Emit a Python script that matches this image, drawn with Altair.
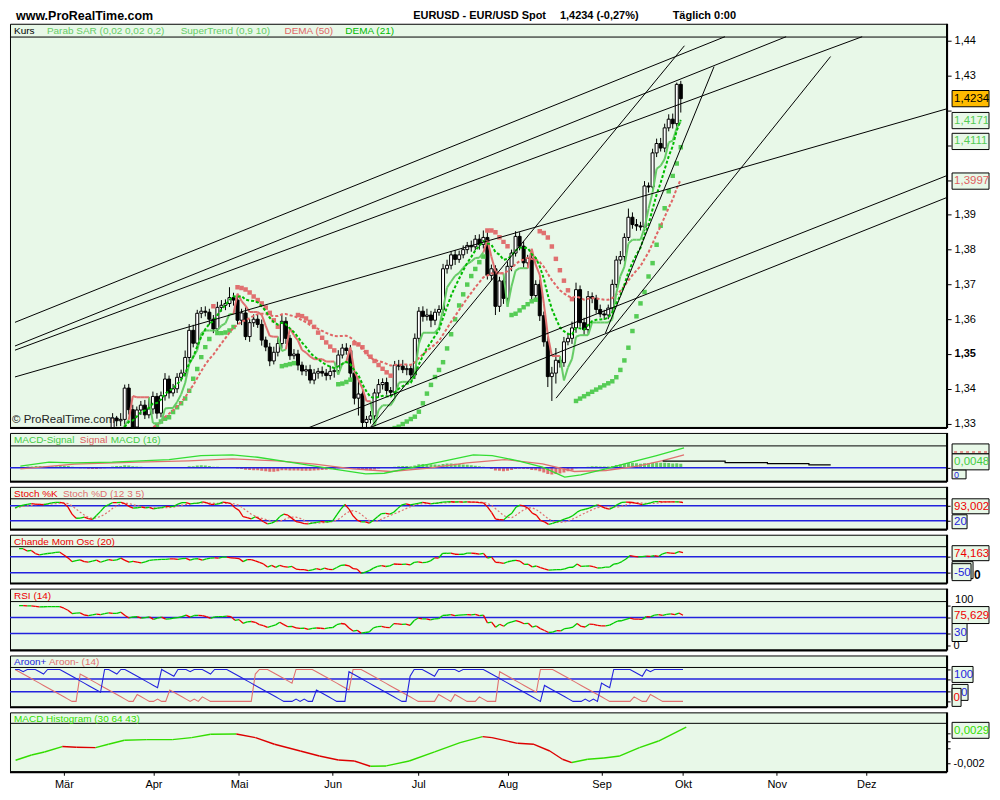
import altair as alt
import numpy as np
import pandas as pd

FONT = "Liberation Sans"
BG = "#e8f8e8"
BLUE = "#2222dd"
GREEN = "#00cc00"
RED = "#ee0000"
PINK = "#e07070"
LGREEN = "#55cc55"

# ------------------------------------------------------------------ data
# bar index 0 = first trading day of March; one value per trading day
FIRST_INDEX = -12
first_open = 1.3010
close = [
    1.3035, 1.3120, 1.3125, 1.3118, 1.3150, 1.3135, 1.3128, 1.3145, 1.3170, 1.3182,
    1.3235, 1.3240, 1.3212, 1.3175, 1.3110, 1.3145, 1.3172, 1.3130, 1.3118, 1.3155,
    1.3205, 1.3198, 1.3262, 1.3316, 1.3308, 1.3312, 1.3402, 1.3340, 1.3290, 1.3339,
    1.3353, 1.3325, 1.3342, 1.3378, 1.3330, 1.3380, 1.3428, 1.3388, 1.3400, 1.3433,
    1.3445, 1.3490, 1.3568, 1.3531, 1.3617, 1.3623, 1.3620, 1.3600, 1.3572, 1.3634,
    1.3640, 1.3645, 1.3662, 1.3655, 1.3597, 1.3618, 1.3550, 1.3590, 1.3600, 1.3585,
    1.3540, 1.3520, 1.3480, 1.3505, 1.3530, 1.3594, 1.3545, 1.3495, 1.3500, 1.3468,
    1.3451, 1.3455, 1.3425, 1.3445, 1.3450, 1.3445, 1.3438, 1.3450, 1.3452, 1.3497,
    1.3517, 1.3510, 1.3445, 1.3373, 1.3385, 1.3303, 1.3312, 1.3322, 1.3388, 1.3412,
    1.3418, 1.3395, 1.3390, 1.3468, 1.3465, 1.3455, 1.3458, 1.3440, 1.3545, 1.3623,
    1.3608, 1.3612, 1.3597, 1.3620, 1.3628, 1.3745, 1.3755, 1.3785, 1.3772, 1.3785,
    1.3800, 1.3812, 1.3808, 1.3830, 1.3815, 1.3835, 1.3726, 1.3745, 1.3637, 1.3710,
    1.3660, 1.3752, 1.3790, 1.3838, 1.3810, 1.3762, 1.3775, 1.3668, 1.3700, 1.3610,
    1.3535, 1.3435, 1.3445, 1.3482, 1.3475, 1.3535, 1.3545, 1.3575, 1.3685, 1.3590,
    1.3570, 1.3665, 1.3660, 1.3628, 1.3615, 1.3612, 1.3632, 1.3700, 1.3770, 1.3780,
    1.3835, 1.3893, 1.3872, 1.3868, 1.3865, 1.3983, 1.3980, 1.4078, 1.4105, 1.4092,
    1.4150, 1.4175, 1.4162, 1.4275, 1.4234,
]
upper_wick_pips = [
    15, 20, 12, 18, 10, 12, 15, 14, 12, 16,
    12, 14, 10, 18, 22, 12, 16, 10, 14, 12,
    12, 15, 10, 14, 6, 18, 10, 12, 14, 10,
    12, 15, 35, 14, 10, 12, 17, 10, 14, 12,
    10, 20, 18, 16, 10, 12, 14, 10, 12, 16,
    15, 12, 30, 14, 18, 12, 16, 10, 14, 12,
    14, 10, 12, 16, 20, 18, 12, 10, 14, 12,
    10, 12, 14, 12, 10, 14, 12, 16, 10, 14,
    12, 14, 16, 10, 40, 12, 10, 14, 12, 16,
    12, 14, 10, 12, 15, 18, 12, 10, 14, 12,
    14, 18, 12, 10, 12, 14, 16, 10, 14, 12,
    12, 10, 14, 12, 14, 20, 15, 12, 10, 12,
    12, 14, 10, 15, 12, 14, 10, 16, 12, 14,
    12, 14, 18, 35, 12, 14, 16, 18, 20, 12,
    14, 16, 12, 10, 14, 12, 10, 14, 12, 16,
    12, 25, 14, 16, 12, 14, 10, 12, 14, 16,
    12, 14, 16, 5, 10,
]
lower_wick_pips = [
    12, 15, 18, 10, 14, 12, 10, 15, 12, 10,
    25, 10, 14, 20, 16, 12, 18, 15, 10, 14,
    15, 12, 14, 20, 16, 15, 20, 14, 12, 16,
    14, 12, 10, 15, 16, 12, 14, 16, 10, 12,
    12, 10, 14, 12, 10, 14, 12, 16, 12, 10,
    12, 14, 10, 16, 12, 14, 10, 15, 12, 10,
    16, 12, 15, 10, 12, 14, 16, 12, 10, 15,
    12, 14, 10, 12, 16, 10, 14, 12, 18, 10,
    10, 12, 14, 18, 50, 16, 14, 12, 10, 14,
    14, 12, 10, 14, 12, 10, 16, 14, 12, 15,
    15, 12, 20, 14, 10, 12, 14, 12, 16, 10,
    10, 12, 14, 10, 15, 12, 12, 14, 25, 16,
    16, 12, 14, 10, 12, 14, 16, 12, 10, 15,
    14, 30, 70, 30, 14, 12, 10, 16, 14, 12,
    16, 12, 14, 12, 10, 14, 12, 16, 10, 12,
    14, 10, 12, 14, 10, 12, 16, 14, 12, 10,
    12, 10, 14, 12, 40,
]

month_names = ["Mär", "Apr", "Mai", "Jun", "Jul", "Aug", "Sep", "Okt", "Nov", "Dez"]
month_idx = [0, 22, 43, 66, 87, 109, 132, 152, 175, 197]

# drawn trend lines (bar index, price)
line_x1 = [-13.23, -13.23, -13.23, -13.23, 58.32, 73.51, 74.49, 121.05, 133.30]
line_p1 = [1.3591, 1.3523, 1.3511, 1.3434, 1.3282, 1.3282, 1.3282, 1.3373, 1.3560]
line_x2 = [162.95, 178.14, 197.01, 218.08, 218.08, 218.08, 152.90, 189.17, 160.25]
line_p2 = [1.4412, 1.4412, 1.4412, 1.4205, 1.4013, 1.3950, 1.4386, 1.4355, 1.4326]

# MACD panel lines
macd_g_idx = [-11.9, -4.8, 1.5, 10.9, 25.0, 32.9, 40.7, 47.0, 54.9, 64.3, 73.8, 78.4,
              84.7, 92.6, 100.5, 105.2, 111.4, 117.7, 123.2, 127.2, 133.4, 139.7, 146.0, 152.8]
macd_g_val = [0.0012, 0.0039, 0.0034, 0.0039, 0.0057, 0.0084, 0.0089, 0.0073, 0.0039,
              -0.0002, -0.0041, -0.0037, -0.0002, 0.0043, 0.0089, 0.0084, 0.0050, 0.0005,
              -0.0064, -0.0048, -0.0007, 0.0039, 0.0084, 0.0137]
macd_r_idx = [-11.9, 1.5, 17.2, 29.8, 40.7, 51.8, 61.2, 70.6, 80.0, 89.5, 98.9, 108.3,
              117.7, 125.6, 133.4, 141.3, 147.5, 152.8]
macd_r_val = [-0.0007, 0.0025, 0.0039, 0.0048, 0.0062, 0.0048, 0.0025, -0.0007, -0.0025,
              -0.0002, 0.0034, 0.0057, 0.0027, -0.0025, -0.0018, 0.0012, 0.0050, 0.0089]
# black projection line in the MACD panel
fut_idx = [147.5, 163.0, 173.5, 183.8, 189.2]
fut_val = [0.0046, 0.0036, 0.0029, 0.0021, 0.0021]

# MACD Histogram (30 64 43)
mh_idx = [-11.86, -7.94, -4.78, -0.39, 3.06, 7.77, 10.93, 14.85, 20.34, 26.64,
          31.34, 36.02, 42.34, 47.05, 51.7, 58.05, 62.73, 67.39, 71.3, 75.22,
          79.15, 84.78, 91.03, 97.28, 102.8, 105.1, 111.4, 115.4, 119.3, 122.4,
          124.7, 128.6, 132.6, 136.5, 141.3, 146.0, 152.8]
mh_val = [-0.00159, -0.00088, -0.00047, 0.00026, 0.00016, 0.00012, 0.00057, 0.00111,
          0.00120, 0.00120, 0.00147, 0.00192, 0.00196, 0.00147, 0.00057, -0.00034,
          -0.00101, -0.00155, -0.00169, -0.00240, -0.00236, -0.00169, -0.00047,
          0.00080, 0.00161, 0.00147, 0.00070, 0.00057, -0.00034, -0.00146, -0.00190,
          -0.00146, -0.00128, -0.00101, 0.00012, 0.00101, 0.00290]

price_ticks = [1.33, 1.34, 1.35, 1.36, 1.37, 1.38, 1.39, 1.40, 1.41, 1.42, 1.43, 1.44]
main_tag_values = [1.4234, 1.4171, 1.4111, 1.3997]
main_tag_texts = ["1,4234", "1,4171", "1,4111", "1,3997"]

# ------------------------------------------------------------ indicators
n = len(close)
bar = np.arange(FIRST_INDEX, FIRST_INDEX + n).astype(float)
C = np.array(close)
O = np.concatenate([[first_open], C[:-1]])
H = np.maximum(O, C) + np.array(upper_wick_pips) / 1e4
L = np.minimum(O, C) - np.array(lower_wick_pips) / 1e4


def ema(x, span):
    return pd.Series(x).ewm(span=span, adjust=False).mean().values


def dema(x, span):
    e1 = ema(x, span)
    return 2 * e1 - ema(e1, span)


dema50 = dema(C, 50)
dema21 = dema(C, 21)

# parabolic SAR (0.02 0.02 0.2)
sar = np.zeros(n)
sar_up = np.zeros(n, dtype=bool)
up = True
af = 0.02
ep = H[0]
sar[0] = L[0]
sar_up[0] = True
for i in range(1, n):
    s = sar[i - 1] + af * (ep - sar[i - 1])
    if up:
        s = min(s, L[i - 1], L[max(i - 2, 0)])
        if L[i] < s:
            up = False
            s = ep
            ep = L[i]
            af = 0.02
        elif H[i] > ep:
            ep = H[i]
            af = min(af + 0.02, 0.2)
    else:
        s = max(s, H[i - 1], H[max(i - 2, 0)])
        if H[i] > s:
            up = True
            s = ep
            ep = H[i]
            af = 0.02
        elif L[i] < ep:
            ep = L[i]
            af = min(af + 0.02, 0.2)
    sar[i] = s
    sar_up[i] = up

# SuperTrend (0.9 10)
prev_c = np.concatenate([[C[0]], C[:-1]])
tr = np.maximum(H - L, np.maximum(np.abs(H - prev_c), np.abs(L - prev_c)))
atr = pd.Series(tr).rolling(10, min_periods=1).mean().values
hl2 = (H + L) / 2
ub = hl2 + 0.9 * atr
lb = hl2 - 0.9 * atr
fub = ub.copy()
flb = lb.copy()
st = np.zeros(n)
st_up = np.zeros(n, dtype=bool)
up_tr = True
for i in range(n):
    if i > 0:
        fub[i] = ub[i] if (ub[i] < fub[i - 1] or C[i - 1] > fub[i - 1]) else fub[i - 1]
        flb[i] = lb[i] if (lb[i] > flb[i - 1] or C[i - 1] < flb[i - 1]) else flb[i - 1]
        if up_tr and C[i] < flb[i]:
            up_tr = False
        elif (not up_tr) and C[i] > fub[i]:
            up_tr = True
    st[i] = flb[i] if up_tr else fub[i]
    st_up[i] = up_tr

# MACD histogram bars (MACD - signal)
macd_line = ema(C, 12) - ema(C, 26)
macd_hist = macd_line - ema(macd_line, 9)

# Stochastic (12 3 5)
hh = pd.Series(H).rolling(12, min_periods=1).max().values
ll = pd.Series(L).rolling(12, min_periods=1).min().values
rawk = np.where(hh > ll, 100 * (C - ll) / np.where(hh > ll, hh - ll, 1), 50.0)
stoch_k = pd.Series(rawk).rolling(3, min_periods=1).mean().values
stoch_d = pd.Series(stoch_k).rolling(5, min_periods=1).mean().values

# CMO (20), RSI (14)
d = np.diff(C)
gains = np.clip(d, 0, None)
losses = np.clip(-d, 0, None)
su = pd.Series(gains).rolling(20, min_periods=1).sum().values
sd = pd.Series(losses).rolling(20, min_periods=1).sum().values
cmo = np.where(su + sd > 0, 100 * (su - sd) / np.where(su + sd > 0, su + sd, 1), 0.0)
ag = pd.Series(gains).ewm(alpha=1 / 14, adjust=False).mean().values
al = pd.Series(losses).ewm(alpha=1 / 14, adjust=False).mean().values
rsi = np.where(al > 0, 100 - 100 / (1 + ag / np.where(al > 0, al, 1)), 100.0)


# Aroon (14)
def _aup(a):
    return 100.0 * (14 - (len(a) - 1 - int(np.argmax(a)))) / 14


def _adn(a):
    return 100.0 * (14 - (len(a) - 1 - int(np.argmin(a)))) / 14


aroon_up = pd.Series(H).rolling(15, min_periods=1).apply(_aup, raw=True).values
aroon_dn = pd.Series(L).rolling(15, min_periods=1).apply(_adn, raw=True).values


def segments(xs, ys, up_flags=None):
    xs = np.asarray(xs, dtype=float)
    ys = np.asarray(ys, dtype=float)
    df = pd.DataFrame({"x": xs[:-1], "x2": xs[1:], "y": ys[:-1], "y2": ys[1:]})
    if up_flags is None:
        df["dir"] = np.where(df["y2"] >= df["y"], "up", "dn")
    else:
        df["dir"] = np.where(np.asarray(up_flags)[1:], "up", "dn")
    return df


# ------------------------------------------------------------- helpers
W = 938
X_DOMAIN = [-13.23, 216.6]
xsc = alt.Scale(domain=X_DOMAIN, zero=False, nice=False)
HF = 10  # header font size


def one():
    return pd.DataFrame({"a": [0]})


def text_at(s, x, y, color="black", size=HF, weight="normal", align="left"):
    return alt.Chart(one()).mark_text(
        text=s, align=align, baseline="middle", fontSize=size, fontWeight=weight,
        color=color, font=FONT).encode(x=alt.value(x), y=alt.value(y))


def box_px(x1, x2, y1, y2, fill=BG):
    return alt.Chart(one()).mark_rect(fill=fill, stroke="black", strokeWidth=1).encode(
        x=alt.value(x1), x2=alt.value(x2), y=alt.value(y1), y2=alt.value(y2))


def tag_px(label, y1, y2, color, width=37, fill=BG, size=11.5, dx=2):
    return [box_px(W + 6, W + 6 + width, y1, y2, fill),
            text_at(label, W + 6 + dx, (y1 + y2) / 2 + 0.5, color, size)]


def sub_axis(values, expr="''"):
    return alt.Axis(orient="right", values=values, labelExpr=expr, tickSize=4,
                    tickColor="black", labelColor="black", labelFontSize=11,
                    labelFont=FONT, domain=False, grid=False, title=None,
                    labelPadding=3, labelFlush=False)


class Panel:
    def __init__(self, height, ydom, yaxis, xaxis=None):
        self.h = height
        self.ysc = alt.Scale(domain=ydom, zero=False, nice=False)
        self.yaxis = yaxis
        self.xaxis = xaxis
        self.layers = []

    def X(self, f):
        return alt.X(f, type="quantitative", scale=xsc, axis=self.xaxis)

    def Y(self, f):
        return alt.Y(f, type="quantitative", scale=self.ysc, axis=self.yaxis)

    def YD(self, v):
        return alt.YDatum(v, type="quantitative", scale=self.ysc, axis=self.yaxis)

    def add(self, *layers):
        self.layers.extend(layers)

    def hline(self, v, color, width=1.0):
        self.layers.append(alt.Chart(one()).mark_rule(color=color, strokeWidth=width).encode(
            y=self.YD(v)))

    def segs(self, df, cu, cd, width=1.3):
        for key, col in (("up", cu), ("dn", cd)):
            sub = df[df["dir"] == key]
            if len(sub):
                self.layers.append(alt.Chart(sub).mark_rule(
                    color=col, strokeWidth=width, clip=True).encode(
                    x=self.X("x"), x2="x2", y=self.Y("y"), y2="y2"))

    def chart(self):
        frame = [
            alt.Chart(one()).mark_rule(color="black", strokeWidth=2).encode(
                x=alt.value(0), x2=alt.value(W + 1), y=alt.value(self.h + 1)),
            alt.Chart(one()).mark_rule(color="black", strokeWidth=2).encode(
                x=alt.value(W + 1), y=alt.value(0), y2=alt.value(self.h + 1)),
        ]
        return alt.layer(*self.layers, *frame).properties(width=W, height=self.h)


# ------------------------------------------------------------ main panel
H_MAIN = 404
main_axis = alt.Axis(
    orient="right", values=price_ticks,
    labelExpr="(datum.value > 1.395 && datum.value < 1.425) ? '' : "
              "replace(format(datum.value, '.2f'), '.', ',')",
    tickSize=5, tickColor="black", labelColor="black", labelFontSize=11,
    labelFont=FONT, domain=False, grid=False, title=None, labelPadding=3,
    labelFlush=False,
    labelFontWeight={"condition": {"test": "abs(datum.value - 1.35) < 0.001", "value": "bold"},
                     "value": "normal"})
P = Panel(H_MAIN, [1.32903, 1.44492], main_axis)

cdf = pd.DataFrame({"i": bar, "o": O, "c": C, "h": H, "l": L})
P.add(alt.Chart(cdf).mark_rule(color="black", strokeWidth=1, clip=True).encode(
    x=P.X("i"), y=P.Y("l"), y2="h"))
P.add(alt.Chart(cdf[cdf["c"] >= cdf["o"]]).mark_bar(
    size=3, fill="white", stroke="black", strokeWidth=1, clip=True).encode(
    x=P.X("i"), y=P.Y("o"), y2="c"))
P.add(alt.Chart(cdf[cdf["c"] < cdf["o"]]).mark_bar(
    size=3, fill="black", stroke="black", strokeWidth=1, clip=True).encode(
    x=P.X("i"), y=P.Y("o"), y2="c"))

sdf = pd.DataFrame({"i": bar, "v": sar, "up": sar_up})
P.add(alt.Chart(sdf[sdf["up"]]).mark_square(size=20, color=LGREEN, opacity=1, clip=True).encode(
    x=P.X("i"), y=P.Y("v")))
P.add(alt.Chart(sdf[~sdf["up"]]).mark_square(size=20, color=PINK, opacity=1, clip=True).encode(
    x=P.X("i"), y=P.Y("v")))

ddf = pd.DataFrame({"i": bar, "d50": dema50, "d21": dema21})
P.add(alt.Chart(ddf).mark_line(color="#e06666", strokeWidth=2, strokeDash=[3, 2], clip=True).encode(
    x=P.X("i"), y=P.Y("d50")))
P.segs(segments(bar, st, st_up), "#66cc66", PINK, width=2)
P.add(alt.Chart(ddf).mark_line(color="#00bb00", strokeWidth=2, strokeDash=[3, 2], clip=True).encode(
    x=P.X("i"), y=P.Y("d21")))

ldf = pd.DataFrame({"x": line_x1, "x2": line_x2, "y": line_p1, "y2": line_p2})
P.add(alt.Chart(ldf).mark_rule(color="black", strokeWidth=1, clip=True).encode(
    x=P.X("x"), x2="x2", y=P.Y("y"), y2="y2"))

P.hline(1.44110, "black")
P.add(text_at("Kurs", 4, 7),
      text_at("Parab SAR (0,02 0,02 0,2)", 37, 7, "#66cc66"),
      text_at("SuperTrend (0,9 10)", 171, 7, "#66cc66"),
      text_at("DEMA (50)", 275, 7, "#e06666"),
      text_at("DEMA (21)", 336, 7, "#00bb00"),
      text_at("© ProRealTime.com", 2, H_MAIN - 7, "#222222", 11.5),
      text_at("www.ProRealTime.com", 6, -8, "black", 12.5, "bold"),
      text_at("EURUSD - EUR/USD Spot", 404, -8, "black", 11, "bold"),
      text_at("1,4234 (-0,27%)", 551, -8, "black", 11, "bold"),
      text_at("Täglich  0:00", 664, -8, "black", 11, "bold"))

tag_style = [("#ffbb00", "black"), (BG, LGREEN), (BG, LGREEN), (BG, "#e06060")]
for v, t, (fc, tc) in zip(main_tag_values, main_tag_texts, tag_style):
    P.add(alt.Chart(one()).mark_point(
        shape="M-1,-0.44H1V0.44H-1Z", size=37 * 37, filled=True, color=fc,
        stroke="black", strokeWidth=1, opacity=1).encode(
        x=alt.value(W + 6 + 18.5), y=P.YD(v)))
    P.add(alt.Chart(one()).mark_text(
        text=t, align="left", baseline="middle", fontSize=11.5, color=tc, font=FONT).encode(
        x=alt.value(W + 8), y=P.YD(v)))
main_chart = P.chart()

# ------------------------------------------------------------ MACD panel
K_MACD = 1458.0  # pixels per unit in this panel
M = Panel(48, [-13.0 / K_MACD, 35.0 / K_MACD], sub_axis([0]))
mdf = pd.DataFrame({"i": bar, "h": macd_hist})
M.add(alt.Chart(mdf[mdf["h"] >= 0]).mark_bar(size=3, color="#66cc66", clip=True).encode(
    x=M.X("i"), y=M.Y("h"), y2=alt.datum(0)))
M.add(alt.Chart(mdf[mdf["h"] < 0]).mark_bar(size=3, color=PINK, clip=True).encode(
    x=M.X("i"), y=M.Y("h"), y2=alt.datum(0)))
M.hline(0, BLUE, 1.5)
M.add(alt.Chart(pd.DataFrame({"i": macd_r_idx, "v": macd_r_val})).mark_line(
    color=PINK, strokeWidth=1.3, clip=True).encode(x=M.X("i"), y=M.Y("v")))
M.add(alt.Chart(pd.DataFrame({"i": macd_g_idx, "v": macd_g_val})).mark_line(
    color="#33dd33", strokeWidth=1.3, clip=True).encode(x=M.X("i"), y=M.Y("v")))
M.add(alt.Chart(pd.DataFrame({"i": fut_idx, "v": fut_val})).mark_line(
    color="black", strokeWidth=1.2, interpolate="step-after", clip=True).encode(
    x=M.X("i"), y=M.Y("v")))
M.hline(22.0 / K_MACD, "black")
M.add(text_at("MACD-Signal", 4, 7, "#44cc44"),
      text_at("Signal", 70, 7, "#e06060"),
      text_at("MACD (16)", 101, 7, "#44cc44"))
M.add(box_px(W + 6, W + 43, 11, 21))
M.add(alt.Chart(one()).mark_rule(color=PINK, strokeWidth=1.5, strokeDash=[3, 3]).encode(
    x=alt.value(W + 8), x2=alt.value(W + 41), y=alt.value(19)))
M.add(*tag_px("0", 37, 46, BLUE, width=14, size=9))
M.add(*tag_px("0,0048", 21, 37, "#44cc44"))
macd_chart = M.chart()

# ------------------------------------------------------------ Stoch panel
S = Panel(42, [-12, 156], sub_axis([80, 20]))
S.hline(80, BLUE, 1.5)
S.hline(20, BLUE, 1.5)
S.add(alt.Chart(pd.DataFrame({"i": bar, "d": stoch_d})).mark_line(
    color=PINK, strokeWidth=1.2, strokeDash=[2, 2], clip=True).encode(x=S.X("i"), y=S.Y("d")))
S.segs(segments(bar, stoch_k), GREEN, RED, 1.3)
S.hline(108, "black")
S.add(text_at("Stoch %K", 4, 7, RED), text_at("Stoch %D (12 3 5)", 53, 7, PINK))
S.add(*tag_px("93,002", 12, 27, RED))
S.add(*tag_px("20", 28, 42, BLUE, width=15))
stoch_chart = S.chart()

# ------------------------------------------------------------ Chande panel
Q = Panel(48, [-112.5, 187.5], sub_axis([50, -50]))
Q.hline(50, BLUE, 1.5)
Q.hline(-50, BLUE, 1.5)
Q.segs(segments(bar[1:], cmo), GREEN, RED, 1.3)
Q.hline(112.5, "black")
Q.add(text_at("Chande Mom Osc (20)", 4, 7, RED))
Q.add(*tag_px("74,163", 11, 26, RED))
Q.add(box_px(W + 6, W + 27, 27, 44))
Q.add(*tag_px("-50", 29, 46, BLUE, width=19))
Q.add(text_at("0", W + 28, 40, "black", 12, "bold"))
cmo_chart = Q.chart()

# ------------------------------------------------------------ RSI panel
R = Panel(61, [-10, 142.5], sub_axis([100, 70, 30, 0],
                                     "datum.value == 0 ? datum.label : ''"))
R.hline(70, BLUE, 1.5)
R.hline(30, BLUE, 1.5)
R.segs(segments(bar[1:], rsi), GREEN, RED, 1.3)
R.hline(110, "black")
R.add(text_at("RSI (14)", 4, 7, RED))
R.add(text_at("100", W + 9, 11, "black", 11))
R.add(*tag_px("75,629", 18, 35, RED))
R.add(*tag_px("30", 35, 53, BLUE, width=15))
rsi_chart = R.chart()

# ------------------------------------------------------------ Aroon panel
A = Panel(51, [-15.6, 143.75], sub_axis([100, 70, 30, 0]))
A.hline(70, BLUE, 1.5)
A.hline(30, BLUE, 1.5)
adf = pd.DataFrame({"i": bar, "u": aroon_up, "d": aroon_dn})
A.add(alt.Chart(adf).mark_line(color=PINK, strokeWidth=1.1, clip=True).encode(
    x=A.X("i"), y=A.Y("d")))
A.add(alt.Chart(adf).mark_line(color=BLUE, strokeWidth=1.1, clip=True).encode(
    x=A.X("i"), y=A.Y("u")))
A.hline(106.25, "black")
A.add(text_at("Aroon+", 4, 7, BLUE), text_at("Aroon- (14)", 39, 7, PINK))
A.add(*tag_px("100", 11, 27, BLUE, width=21))
A.add(*tag_px("0", 29, 45, BLUE, width=16, dx=9))
A.add(*tag_px("0", 33, 51, RED, width=9, dx=1.5))
aroon_chart = A.chart()

# ------------------------------------------------------------ MACD histogram panel
x_axis = alt.Axis(
    values=month_idx,
    labelExpr="[" + ",".join("'%s'" % m for m in month_names) + "][indexof(["
              + ",".join(str(v) for v in month_idx) + "], datum.value)]",
    tickSize=4, tickColor="black", labelColor="black", labelFontSize=11, labelFont=FONT,
    domain=False, grid=False, title=None, labelPadding=3, labelFlush=False)
G = Panel(59, [-0.003078, 0.004887],
          sub_axis([0.002, 0.001, 0, -0.002], "datum.value < -0.0015 ? '-0,002' : ''"),
          xaxis=x_axis)
G.segs(segments(mh_idx, mh_val), "#33dd00", "#dd0000", 1.4)
G.hline(0.003402, "black")
G.add(text_at("MACD Histogram (30 64 43)", 4, 7, "#33dd00"))
G.add(*tag_px("0,0029", 10, 26, "#33dd00"))
macdh_chart = G.chart()

chart = alt.vconcat(
    main_chart, macd_chart, stoch_chart, cmo_chart, rsi_chart, aroon_chart, macdh_chart,
    spacing=6, bounds="flush",
).resolve_scale(x="independent", y="independent").configure_view(
    fill=BG, stroke="black", strokeWidth=1
).properties(
    background="white", padding={"left": 0, "top": 0, "right": 0, "bottom": 0}
)

chart.save("out.html", embed_options={"renderer": "svg", "actions": False})
